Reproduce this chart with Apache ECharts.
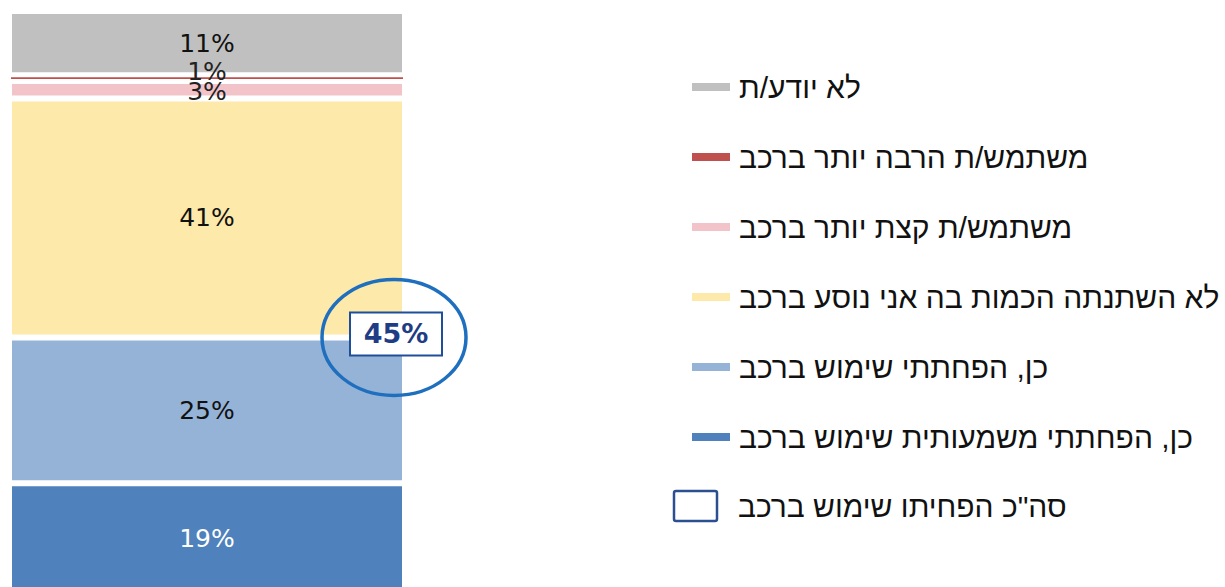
<!DOCTYPE html>
<html>
<head>
<meta charset="utf-8">
<script src="https://cdn.jsdelivr.net/npm/echarts@6/dist/echarts.min.js"></script>
<style>
  html, body { margin: 0; padding: 0; background: #fff; overflow: hidden; }
  #chart { width: 1225px; height: 600px; }
</style>
</head>
<body>
<div id="chart"></div>
<script>
// stack order: bottom -> top
var seriesNames = [
    'כן, הפחתתי משמעותית שימוש ברכב',
    'כן, הפחתתי שימוש ברכב',
    'לא השתנתה הכמות בה אני נוסע ברכב',
    'משתמש/ת קצת יותר ברכב',
    'משתמש/ת הרבה יותר ברכב',
    'לא יודע/ת'
];
var seriesValues = [19, 25, 41, 3, 1, 11];
var seriesColors = ['#4f81bd', '#95b3d7', '#fde9a9', '#f2c4c9', '#c0504d', '#c0c0c0'];
var labelColors = ['#ffffff', '#111111', '#111111', '#222222', '#222222', '#111111'];
var categories = ['שימוש ברכב'];
var totalLabel = 'סה"כ הפחיתו שימוש ברכב';
var totalValue = 45; // as printed in the chart (19 + 25, rounded)

// svg renderer so the browser lays out the hebrew text right-to-left
var myChart = echarts.init(document.getElementById('chart'), null, { renderer: 'svg' });

var series = seriesNames.map(function (name, i) {
    var isThin = seriesValues[i] < 2;
    return {
        name: name,
        type: 'bar',
        stack: 'total',
        barWidth: '100%',
        data: [seriesValues[i]],
        z: isThin ? 3 : 2,
        itemStyle: {
            color: seriesColors[i],
            borderColor: '#ffffff',
            borderWidth: isThin ? 2 : 3
        },
        label: {
            show: true,
            position: 'inside',
            formatter: '{c}%',
            color: labelColors[i],
            fontFamily: 'DejaVu Sans',
            fontSize: 25,
            offset: i === 4 ? [0, -7] : (i === 3 ? [0, 2] : [0, 0])
        }
    };
});

myChart.setOption({
    animation: false,
    grid: { left: 9, top: 11, width: 396, height: 583 },
    xAxis: { type: 'category', data: categories, show: false },
    yAxis: { type: 'value', min: 0, max: 100, show: false },
    legend: {
        orient: 'vertical',
        left: 690,
        top: 72,
        padding: 0,
        itemWidth: 40,
        itemHeight: 10,
        itemGap: 40,
        icon: 'rect',
        selectedMode: false,
        data: seriesNames.slice().reverse(),
        textStyle: {
            fontFamily: 'Liberation Sans',
            fontSize: 30,
            lineHeight: 30,
            color: '#111111',
            padding: [0, 0, 0, 3]
        }
    },
    series: series
});

// annotation: total of the two "reduced" segments, at their top edge
var yBoundary = myChart.convertToPixel({ yAxisIndex: 0 }, seriesValues[0] + seriesValues[1]);
var xCenter = myChart.convertToPixel({ xAxisIndex: 0 }, categories[0]);
var cx = xCenter + 187;

myChart.setOption({
    graphic: [
        {
            type: 'ellipse',
            shape: { cx: cx, cy: yBoundary, rx: 72, ry: 58 },
            style: { fill: 'none', stroke: '#1f6fbf', lineWidth: 3.5 },
            z: 10
        },
        {
            type: 'rect',
            shape: { x: cx - 44, y: yBoundary - 25, width: 92, height: 43 },
            style: { fill: '#ffffff', stroke: '#1f4f9a', lineWidth: 2 },
            z: 11
        },
        {
            type: 'text',
            x: cx + 2,
            y: yBoundary - 3.5,
            style: {
                text: totalValue + '%',
                fill: '#1f3d85',
                font: 'bold 27px "DejaVu Sans"',
                align: 'center',
                verticalAlign: 'middle'
            },
            z: 12
        },
        {
            type: 'rect',
            shape: { x: 674, y: 491, width: 43, height: 30, r: 2 },
            style: { fill: '#ffffff', stroke: '#2b4f90', lineWidth: 2.5 },
            z: 10
        },
        {
            type: 'text',
            x: 738,
            y: 506,
            style: {
                text: totalLabel,
                fill: '#111111',
                font: '30px "Liberation Sans"',
                align: 'left',
                verticalAlign: 'middle'
            },
            z: 10
        }
    ]
});
</script>
</body>
</html>
